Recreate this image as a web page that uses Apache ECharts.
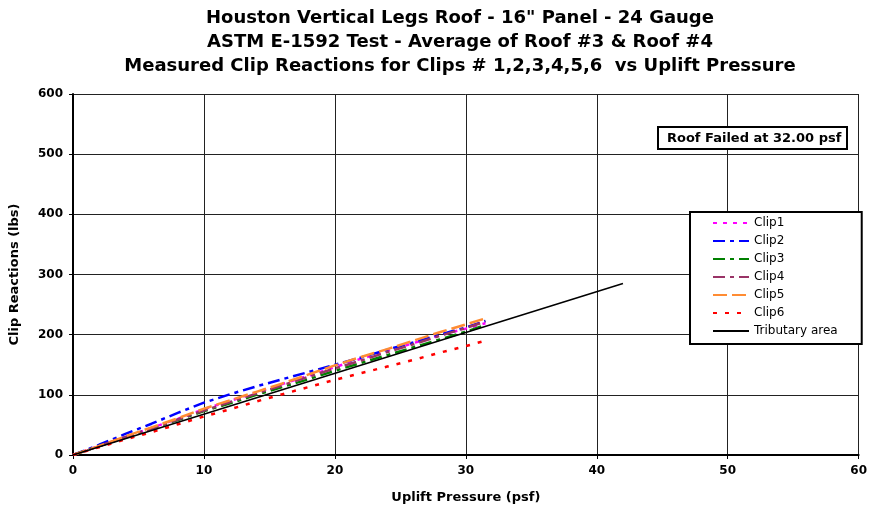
<!DOCTYPE html>
<html>
<head>
<meta charset="utf-8">
<script src="https://cdn.jsdelivr.net/npm/echarts@6/dist/echarts.min.js"></script>
<style>
  html, body { margin: 0; padding: 0; background: #fff; }
  #main { width: 870px; height: 510px; }
</style>
</head>
<body>
<div id="main"></div>
<script>
// pressure steps (psf) for the measured clips
const pressure = [0, 2, 4, 6, 8, 10, 12, 14, 16, 18, 20, 22, 24, 26, 28, 30, 31.5]
const clip1 = [0, 15, 30, 45, 60, 76, 90, 104, 118, 132, 146, 160, 173, 186, 199, 210, 219]
const clip2 = [0, 17, 35, 52, 70, 87, 101, 114, 126, 138, 150, 162, 175, 187, 200, 212, 223]
const clip3 = [0, 15, 29, 44, 58, 73, 86, 100, 113, 126, 140, 153, 166, 179, 192, 205, 216]
const clip4 = [0, 15, 30, 44, 59, 74, 88, 102, 116, 130, 144, 157, 171, 184, 198, 211, 222]
const clip5 = [0, 15, 31, 46, 61, 77, 91, 105, 119, 134, 149, 163, 176, 190, 204, 217, 227]
const clip6 = [0, 13, 26, 38, 51, 64, 76, 89, 101, 113, 125, 136, 147, 158, 170, 181, 190]
// tributary area line
const tribX = [0, 42]
const tribY = [0, 285]

function pairs(xs, ys) {
  return xs.map((x, i) => [x, ys[i]])
}

var myChart = echarts.init(document.getElementById('main'));

const font = 'DejaVu Sans, Verdana, sans-serif'

function clipSeries(name, data, color, dash, width) {
  return {
    name: name,
    type: 'line',
    data: pairs(pressure, data),
    symbol: 'none',
    lineStyle: { color: color, width: width || 2.5, type: dash },
    itemStyle: { color: color }
  }
}

var option = {
  animation: false,
  title: [
    {
      text: 'Houston Vertical Legs Roof - 16" Panel - 24 Gauge\nASTM E-1592 Test - Average of Roof #3 & Roof #4\nMeasured Clip Reactions for Clips # 1,2,3,4,5,6  vs Uplift Pressure',
      left: 455,
      top: 1,
      textAlign: 'center',
      textStyle: { fontFamily: font, fontSize: 18, fontWeight: 'bold', color: '#000', lineHeight: 24 }
    },
    {
      text: 'Roof Failed at 32.00 psf',
      left: 658,
      top: 127,
      borderColor: '#000',
      borderWidth: 2,
      backgroundColor: '#fff',
      padding: [5, 6, 4, 9],
      textStyle: { fontFamily: font, fontSize: 13, fontWeight: 'bold', color: '#000' }
    }
  ],
  legend: {
    orient: 'vertical',
    left: 690,
    top: 212,
    backgroundColor: '#fff',
    borderColor: '#000',
    borderWidth: 2,
    padding: [5, 24, 7, 22],
    itemWidth: 36,
    itemHeight: 10,
    itemGap: 6,
    itemStyle: { opacity: 0 },
    textStyle: { fontFamily: font, fontSize: 12, color: '#000' },
    data: ['Clip1', 'Clip2', 'Clip3', 'Clip4', 'Clip5', 'Clip6', 'Tributary area']
  },
  grid: { left: 73, right: 9, top: 94, bottom: 55, containLabel: false },
  xAxis: {
    type: 'value',
    min: 0, max: 60, interval: 10,
    name: 'Uplift Pressure (psf)',
    nameLocation: 'middle',
    nameGap: 36,
    nameTextStyle: { fontFamily: font, fontSize: 13, fontWeight: 'bold', color: '#000' },
    axisLine: { lineStyle: { color: '#000', width: 2 } },
    axisTick: { length: 4, lineStyle: { color: '#000' } },
    axisLabel: { fontFamily: font, fontSize: 12, fontWeight: 'bold', color: '#000', margin: 10 },
    splitLine: { show: true, lineStyle: { color: '#222', width: 1 } }
  },
  yAxis: {
    type: 'value',
    min: 0, max: 600, interval: 100,
    name: 'Clip Reactions (lbs)',
    nameLocation: 'middle',
    nameGap: 52,
    nameTextStyle: { fontFamily: font, fontSize: 13, fontWeight: 'bold', color: '#000' },
    axisLine: { show: true, lineStyle: { color: '#000', width: 2 } },
    axisTick: { show: true, length: 4, lineStyle: { color: '#000' } },
    axisLabel: { fontFamily: font, fontSize: 12, fontWeight: 'bold', color: '#000', margin: 10 },
    splitLine: { show: true, lineStyle: { color: '#222', width: 1 } }
  },
  series: [
    clipSeries('Clip1', clip1, '#ff00ff', [4, 6]),
    clipSeries('Clip2', clip2, '#0000ff', [12, 5, 4, 5]),
    clipSeries('Clip3', clip3, '#008000', [12, 5, 4, 5]),
    clipSeries('Clip4', clip4, '#993366', [12, 5, 4, 5]),
    clipSeries('Clip5', clip5, '#ff8c33', [14, 5]),
    clipSeries('Clip6', clip6, '#ff0000', [4, 8]),
    {
      name: 'Tributary area',
      type: 'line',
      data: pairs(tribX, tribY),
      symbol: 'none',
      lineStyle: { color: '#000', width: 1.5, type: 'solid' },
      itemStyle: { color: '#000' }
    }
  ]
};

myChart.setOption(option);
</script>
</body>
</html>
